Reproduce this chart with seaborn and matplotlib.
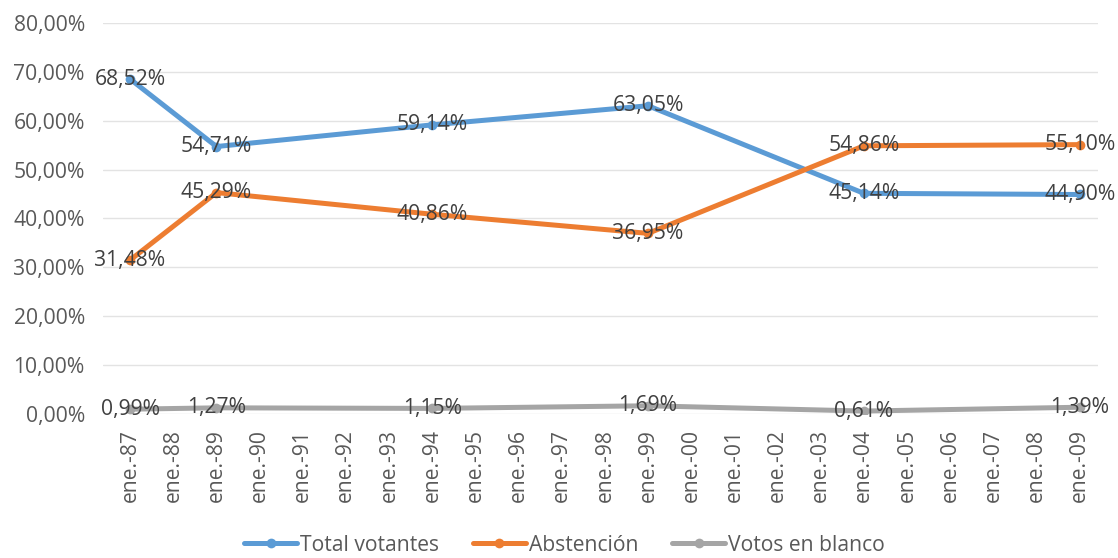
import pandas as pd
import matplotlib.pyplot as plt
import seaborn as sns
from matplotlib.lines import Line2D

sns.set_theme(style="whitegrid")
plt.rcParams['font.family'] = ['Open Sans', 'DejaVu Sans']

# Data
years = [1987, 1989, 1994, 1999, 2004, 2009]
total_votantes = [68.52, 54.71, 59.14, 63.05, 45.14, 44.90]
abstencion = [31.48, 45.29, 40.86, 36.95, 54.86, 55.10]
votos_blanco = [0.99, 1.27, 1.15, 1.69, 0.61, 1.39]
series_names = ["Total votantes", "Abstención", "Votos en blanco"]
colors = ["#5B9BD5", "#ED7D31", "#A5A5A5"]
y_ticks = [0, 10, 20, 30, 40, 50, 60, 70, 80]
tick_years = list(range(1987, 2010))

dates = pd.to_datetime([f"{y}-01-01" for y in years])
df = pd.concat([
    pd.DataFrame({"fecha": dates, "valor": vals, "serie": name})
    for name, vals in zip(series_names, [total_votantes, abstencion, votos_blanco])
], ignore_index=True)

fig = plt.figure(figsize=(11.18, 5.58), dpi=100)
ax = fig.add_axes([0.092, 0.258, 0.890, 0.701])

sns.lineplot(data=df, x="fecha", y="valor", hue="serie", hue_order=series_names,
             palette=colors, marker="o", markersize=7, markeredgewidth=0,
             linewidth=3.6, sort=False, legend=False, ax=ax)

fs = 15.2

# data labels centred on each point
for name in series_names:
    sub = df[df["serie"] == name]
    for d, v in zip(sub["fecha"], sub["valor"]):
        ax.text(d, v, f"{v:.2f}%".replace(".", ","), ha="center", va="center",
                fontsize=fs, color="#404040", zorder=5)

ax.set_ylim(0, 80)
ax.set_yticks(y_ticks)
ax.set_yticklabels([f"{t:.2f}%".replace(".", ",") for t in y_ticks],
                   fontsize=fs, color="#595959")
tick_dates = pd.to_datetime([f"{y}-01-01" for y in tick_years])
ax.set_xticks(tick_dates)
ax.set_xticklabels([f"ene.-{y % 100:02d}" for y in tick_years], rotation=90,
                   fontsize=fs, color="#595959")
ax.set_xlim(pd.Timestamp("1986-05-16"), pd.Timestamp("2009-06-03"))
ax.set_xlabel("")
ax.set_ylabel("")
ax.grid(axis="x", visible=False)
ax.grid(axis="y", color="#E3E3E3", linewidth=1.0)
ax.tick_params(axis="y", length=0, pad=13)
ax.tick_params(axis="x", length=0, pad=11)
for s in ax.spines.values():
    s.set_visible(False)

handles = [Line2D([0], [0], color=c, linewidth=3.6, marker="o", markersize=7,
                  markeredgewidth=0) for c in colors]
fig.legend(handles, series_names, loc="lower center", bbox_to_anchor=(0.505, -0.03),
           ncol=3, frameon=False, fontsize=fs, handlelength=2.5,
           handletextpad=0.15, columnspacing=1.6, labelcolor="#595959")

fig.savefig("out.png", dpi=100)
